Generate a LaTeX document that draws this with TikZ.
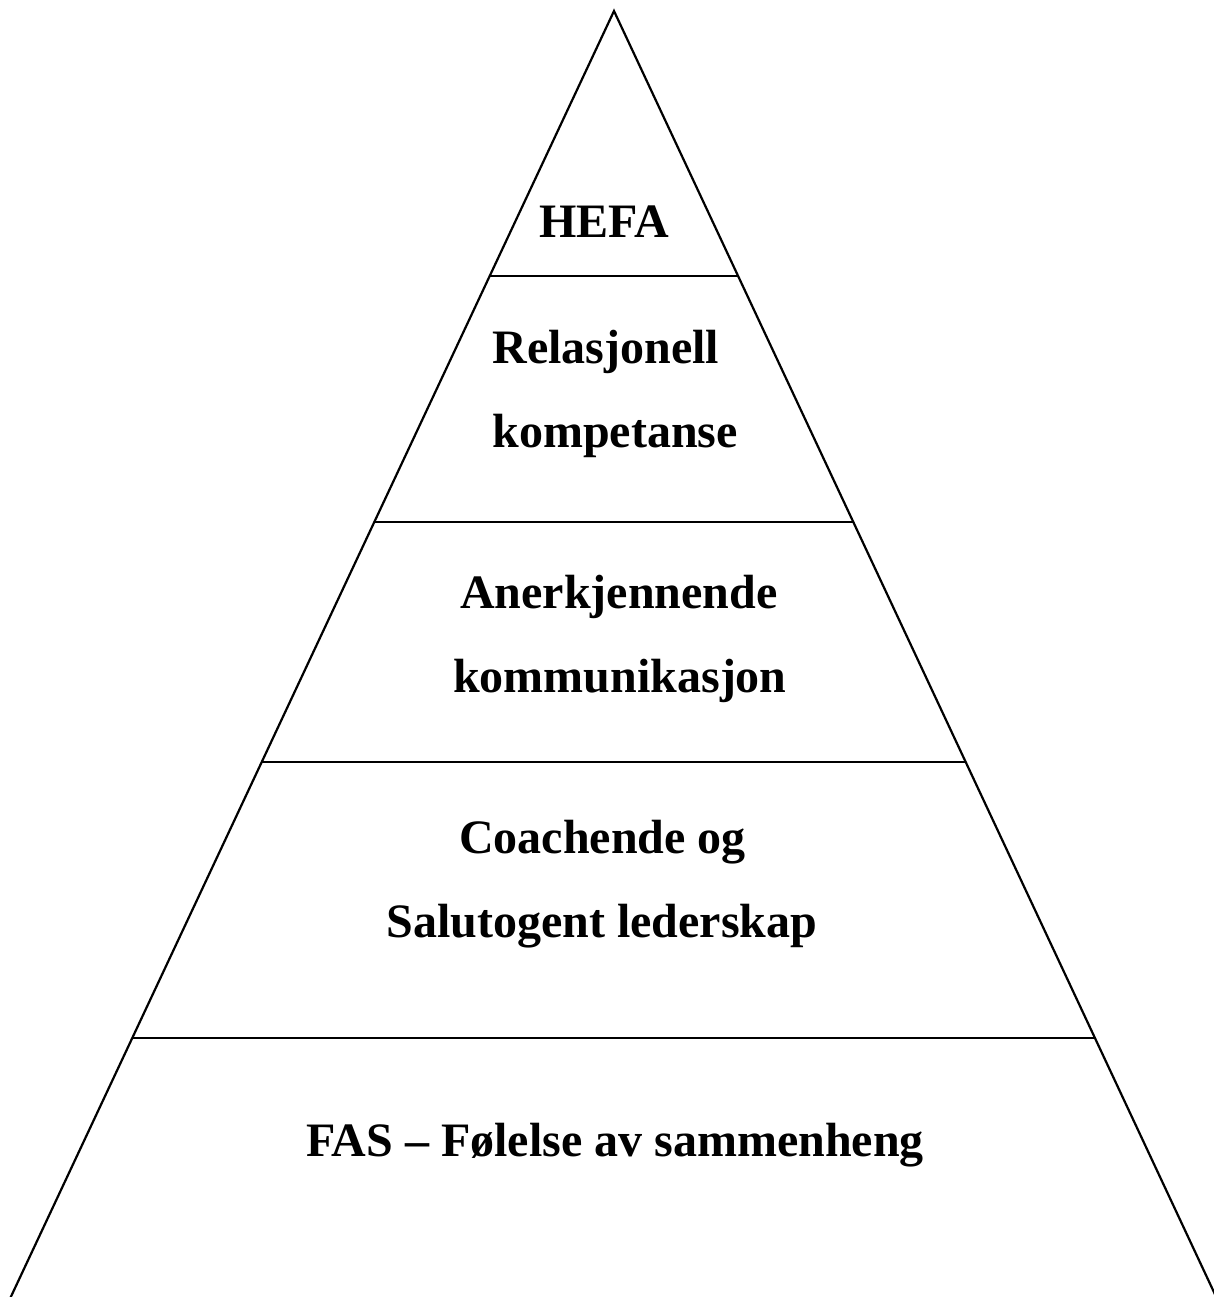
\documentclass[tikz,border=0pt]{standalone}
\usepackage{fontspec}
\setmainfont{Liberation Serif}
\usetikzlibrary{calc}
\tikzset{
  edge/.style={line width=1.1pt, black},
  label/.style={font=\fontsize{24}{29}\selectfont\bfseries, inner sep=0pt}
}
\begin{document}
\begin{tikzpicture}[x=0.5pt, y=-0.5pt]
\useasboundingbox (0,0) rectangle (1214,1297);
\clip (0,0) rectangle (1214,1297);
\fill[white] (0,0) rectangle (1214,1297);
\coordinate (apex) at (614,11);
\coordinate (bl) at (0,1320);
\coordinate (br) at (1227,1320);
\draw[edge, line join=miter] (bl) -- (apex) -- (br);
% level lines
\foreach \t/\n in {0.2024/a, 0.3901/b, 0.5737/c, 0.7846/d} {
  \coordinate (L\n) at ($(apex)!\t!(bl)$);
  \coordinate (R\n) at ($(apex)!\t!(br)$);
  \draw[edge] (L\n) -- (R\n);
}
% labels
\node[label, anchor=base] (hefa) at (604.5,237) {HEFA};
\node[label, anchor=base west] (rel1) at (492,363) {Relasjonell};
\node[label, anchor=base west] (rel2) at (492,447) {kompetanse};
\node[label, anchor=base] (ank1) at (619,608) {Anerkjennende};
\node[label, anchor=base] (ank2) at (620,692) {kommunikasjon};
\node[label, anchor=base] (coa1) at (602.5,853) {Coachende og};
\node[label, anchor=base] (coa2) at (602,937) {Salutogent lederskap};
\node[label, anchor=base] (fas) at (615,1156) {FAS – Følelse av sammenheng};
\end{tikzpicture}
\end{document}
